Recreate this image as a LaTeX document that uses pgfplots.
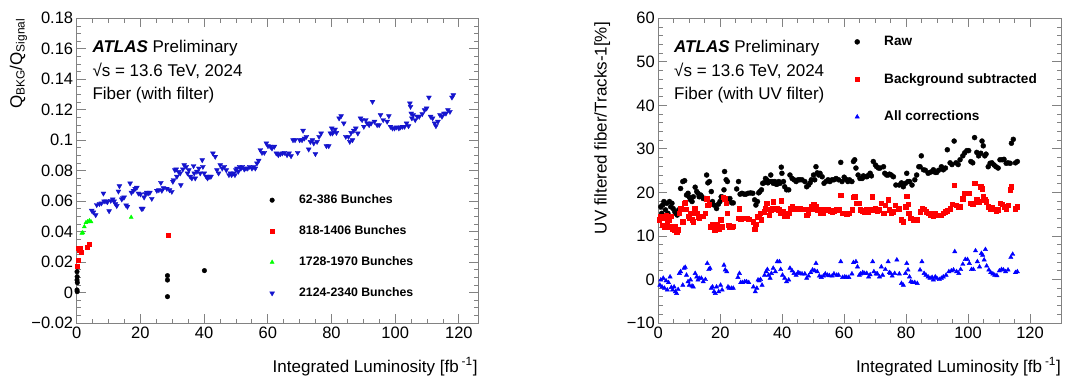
\documentclass[border=0pt]{standalone}
\usepackage{fontspec}
\setmainfont{Liberation Sans}
\usepackage{pgfplots}
\pgfplotsset{compat=1.18}
\definecolor{rootgreen}{RGB}{0,255,0}
\definecolor{rootblueL}{RGB}{20,20,205}
\definecolor{rootblue}{RGB}{0,0,255}
\definecolor{rootred}{RGB}{255,0,0}
\definecolor{frame}{RGB}{130,130,130}
\pgfplotsset{
  rootax/.style={
    scale only axis, height=304.7pt,
    axis line style={frame, line width=0.8pt},
    every tick/.style={frame, line width=0.8pt},
    major tick length=9pt, minor tick length=4.5pt,
    tick align=inside,
    ticklabel style={font=\fontsize{16.5}{18}\selectfont},
    scaled ticks=false,
    clip=false,
    legend cell align=left,
    legend image code/.code={\draw[mark repeat=2,mark phase=2] plot coordinates {(0pt,0pt)(0pt,0pt)(0pt,0pt)}; \path[draw=none,fill=none] (-3pt,-3pt) rectangle (25pt,3pt);},
  }
}
\begin{document}
\begin{tikzpicture}[x=1pt,y=1pt]
\path[use as bounding box] (0,0) rectangle (1078,376);

% ---------------- left panel ----------------
\begin{axis}[rootax, at={(76.7pt,53pt)}, anchor=south west, width=401.3pt,
  xmin=0, xmax=126, ymin=-0.02, ymax=0.18,
  xtick={0,20,40,60,80,100,120}, xticklabels={0,20,40,60,80,100,120},
  ytick={-0.02,0,0.02,0.04,0.06,0.08,0.1,0.12,0.14,0.16,0.18},
  yticklabels={−0.02,0,0.02,0.04,0.06,0.08,0.1,0.12,0.14,0.16,0.18},
  minor x tick num=3, minor y tick num=3,
  legend style={at={(0.479,0.4234)}, anchor=north west, draw=none, fill=none, inner sep=0pt, row sep=19pt,
    font=\bfseries\fontsize{12.3}{14}\selectfont, nodes={inner xsep=2pt, inner ysep=0pt, text height=9pt, text depth=3pt}},
]
\addplot[only marks, mark=*, mark size=2.3pt, color=black] coordinates {
(0.1,0.0137)(0.15,0.0104)(0.1,0.0082)(0.2,0.0065)(0.1,0.0017)(0.15,0.0006)(28.5,0.0111)(28.5,0.0082)(28.5,-0.0027)(40.1,0.0144)};
\addlegendentry{62-386 Bunches}
\addplot[only marks, mark=square*, mark size=2pt, color=rootred] coordinates {
(0.2,0.017)(0.4,0.0214)(0.5,0.029)(1.0,0.029)(1.4,0.0264)(0.8,0.0275)(3.4,0.030)(3.8,0.032)(28.6,0.0378)};
\addlegendentry{818-1406 Bunches}
\addplot[only marks, mark=triangle*, mark size=2.3pt, color=rootgreen] coordinates {
(1.6,0.0389)(1.9,0.0393)(2.4,0.0432)(2.9,0.0459)(3.4,0.0465)(4.0,0.0472)(4.5,0.0465)(17.1,0.0494)};
\addlegendentry{1728-1970 Bunches}
\addplot[only marks, mark=triangle*, mark size=2.8pt, color=rootblueL, mark options={rotate=180}] coordinates {
(4.72,0.0538)(5.24,0.0527)(5.97,0.0509)(6.29,0.0575)(7.13,0.0582)(7.76,0.0586)(8.39,0.0651)(8.60,0.0599)(9.22,0.0599)(9.64,0.0594)(10.17,0.0535)(10.69,0.0603)(11.32,0.0612)(11.74,0.0599)(12.16,0.0582)(12.58,0.0569)(13.10,0.0664)(13.42,0.0699)(14.15,0.0612)(14.47,0.0621)(14.88,0.0625)(15.51,0.0573)(15.93,0.0564)(16.77,0.0717)(17.19,0.0656)(17.82,0.0669)(18.34,0.0682)(18.87,0.0689)(19.39,0.0651)(20.02,0.0645)(20.34,0.0551)(20.75,0.0551)(21.17,0.0625)(21.59,0.0647)(22.01,0.0656)(22.43,0.0651)(22.96,0.0656)(23.58,0.0616)(25.16,0.0669)(25.79,0.0673)(26.42,0.0721)(26.73,0.0669)(27.25,0.0686)(28.30,0.0682)(29.14,0.0673)(29.87,0.0662)(30.19,0.0728)(30.40,0.0739)(30.82,0.0804)(31.24,0.0809)(31.45,0.0761)(31.97,0.0793)(32.49,0.0783)(32.70,0.0706)(33.33,0.0809)(33.75,0.0837)(34.38,0.0826)(34.80,0.0783)(35.22,0.0804)(35.64,0.0761)(36.16,0.0750)(36.69,0.0831)(36.90,0.0783)(37.21,0.0750)(37.74,0.0794)(38.36,0.0815)(38.78,0.0783)(39.41,0.0870)(39.62,0.0826)(40.04,0.0783)(40.67,0.0761)(41.09,0.0750)(41.72,0.0761)(42.14,0.0761)(42.77,0.0914)(43.50,0.0892)(44.03,0.0804)(44.55,0.0783)(45.07,0.0837)(45.70,0.0815)(46.33,0.0826)(46.96,0.0804)(47.80,0.0772)(48.22,0.0783)(48.64,0.0772)(49.27,0.0783)(49.69,0.0772)(50.00,0.0804)(50.31,0.0815)(50.73,0.0794)(51.15,0.0826)(51.57,0.0815)(51.99,0.0826)(52.62,0.0809)(53.14,0.0815)(53.67,0.0815)(54.30,0.0826)(55.03,0.0815)(55.56,0.0826)(56.08,0.0815)(56.60,0.0848)(57.13,0.0866)(57.65,0.0936)(58.18,0.0918)(58.91,0.0918)(59.54,0.0980)(60.06,0.0962)(60.80,0.0958)(61.32,0.0947)(62.05,0.0958)(62.68,0.0914)(63.31,0.0903)(63.94,0.0910)(64.57,0.0914)(65.20,0.0918)(66.04,0.0903)(66.67,0.0914)(67.30,0.0896)(67.92,0.1001)(68.55,0.1001)(69.39,0.0918)(70.02,0.1001)(70.75,0.1001)(71.07,0.1063)(71.49,0.1012)(72.12,0.1023)(72.85,0.0940)(73.38,0.0990)(74.00,0.1001)(74.42,0.0980)(74.95,0.0910)(75.47,0.0990)(76.10,0.1023)(76.73,0.1045)(78.41,0.0962)(79.14,0.0962)(79.66,0.1045)(80.08,0.1078)(80.29,0.1045)(80.71,0.1056)(81.13,0.1071)(81.55,0.1049)(82.39,0.1144)(83.02,0.1159)(83.86,0.1111)(84.49,0.1023)(85.32,0.1023)(85.74,0.0990)(86.16,0.1049)(86.58,0.1001)(87.00,0.1063)(87.63,0.1078)(88.26,0.1045)(89.10,0.1144)(89.62,0.1133)(90.15,0.1089)(90.78,0.1133)(91.19,0.1111)(91.82,0.1100)(92.45,0.1111)(92.87,0.1253)(93.50,0.1122)(94.34,0.1100)(94.97,0.1100)(95.39,0.1166)(96.23,0.1133)(97.48,0.1122)(98.01,0.1159)(98.53,0.1089)(99.16,0.1078)(99.79,0.1078)(100.42,0.1085)(101.15,0.1078)(101.68,0.1085)(102.31,0.1089)(102.94,0.1089)(103.56,0.1111)(104.19,0.1093)(104.61,0.1242)(104.82,0.1220)(105.03,0.1176)(105.24,0.1144)(105.66,0.1166)(106.29,0.1133)(106.92,0.1155)(107.55,0.1155)(108.49,0.1172)(109.22,0.1198)(109.85,0.1209)(110.59,0.1281)(111.11,0.1155)(111.74,0.1144)(112.37,0.1111)(112.79,0.1093)(113.42,0.1122)(114.05,0.1166)(114.68,0.1155)(115.30,0.1176)(115.93,0.1176)(116.56,0.1198)(117.19,0.1187)(117.82,0.1281)(118.24,0.1296)};
\addlegendentry{2124-2340 Bunches}
\end{axis}

% ---------------- right panel ----------------
\begin{axis}[rootax, at={(658.3pt,53pt)}, anchor=south west, width=402.7pt,
  xmin=0, xmax=130, ymin=-10, ymax=60,
  xtick={0,20,40,60,80,100,120}, xticklabels={0,20,40,60,80,100,120},
  ytick={-10,0,10,20,30,40,50,60}, yticklabels={−10,0,10,20,30,40,50,60},
  minor x tick num=3, minor y tick num=4,
  legend style={at={(0.486,0.943)}, anchor=north west, draw=none, fill=none, inner sep=0pt, row sep=25.5pt,
    font=\bfseries\fontsize{13.6}{15}\selectfont, nodes={inner xsep=2pt, inner ysep=0pt, text height=10pt, text depth=2pt}},
]
\addplot[only marks, mark=*, mark size=2.5pt, color=black] coordinates {
(0.8,16.7)(1.1,15.2)(1.4,17.1)(1.8,17.9)(2.3,16.0)(2.7,17.5)(3.1,15.2)(3.6,17.9)(4.0,16.7)(4.4,17.5)(4.8,16.3)(5.3,15.6)(5.7,15.2)(6.1,14.8)(6.6,16.0)(7.2,20.9)(7.9,22.5)(8.5,22.7)(9.1,19.4)(9.6,19.8)(10.0,18.9)(10.4,18.3)(10.9,17.9)(11.3,19.0)(11.9,21.2)(12.4,20.2)(12.8,19.8)(13.2,19.0)(13.7,19.4)(14.1,19.0)(14.5,18.6)(15.2,18.6)(15.6,24.0)(16.0,22.2)(16.5,22.5)(17.1,20.2)(17.5,17.9)(18.0,17.1)(18.8,16.3)(19.4,17.3)(19.9,17.9)(20.3,19.0)(20.8,18.9)(21.2,20.6)(21.4,24.8)(21.9,22.9)(22.3,22.5)(22.7,18.4)(23.1,18.6)(23.7,17.6)(24.2,17.6)(25.3,20.8)(25.9,22.5)(26.4,19.6)(27.0,19.8)(27.7,19.6)(28.3,19.6)(29.0,19.8)(29.8,19.9)(30.5,19.8)(31.1,18.3)(31.5,17.1)(32.0,17.9)(32.4,19.9)(32.8,20.2)(33.3,20.6)(33.7,22.1)(34.1,22.2)(34.6,23.2)(35.0,22.9)(35.4,22.2)(35.8,22.5)(36.3,24.0)(36.7,22.5)(37.1,22.1)(37.6,22.5)(38.0,21.9)(38.4,21.9)(38.9,22.5)(39.3,22.1)(39.7,25.8)(39.9,24.4)(40.4,22.5)(40.8,21.3)(41.4,20.6)(42.1,20.6)(42.5,24.0)(43.2,23.2)(43.8,22.9)(44.5,22.5)(45.1,22.9)(45.7,22.9)(46.4,22.9)(47.3,22.5)(47.9,21.3)(48.5,21.7)(49.0,22.2)(49.4,22.9)(50.1,24.0)(50.5,22.9)(50.9,25.9)(51.3,24.5)(51.8,24.0)(52.2,24.4)(52.9,23.6)(53.5,22.1)(54.1,22.5)(54.8,22.9)(55.4,22.5)(56.1,22.9)(56.7,22.9)(57.4,23.2)(58.2,22.9)(58.9,26.9)(59.3,22.5)(60.0,23.5)(60.6,23.0)(61.2,22.5)(61.7,22.9)(62.5,22.5)(63.0,27.1)(63.4,27.5)(63.8,25.6)(64.5,24.0)(65.1,23.2)(65.8,23.2)(66.2,23.8)(66.6,23.6)(67.3,23.6)(67.9,24.0)(68.4,24.4)(68.8,23.8)(69.4,27.1)(70.1,26.3)(70.5,25.9)(71.1,25.6)(71.6,25.6)(72.7,25.9)(73.1,24.4)(73.7,24.0)(74.2,24.0)(74.6,24.2)(75.2,24.0)(75.9,23.6)(76.7,21.7)(77.8,21.7)(78.5,22.2)(79.1,21.3)(79.8,22.1)(80.2,24.4)(80.6,22.5)(81.1,22.5)(81.9,21.7)(82.8,22.9)(83.4,24.0)(84.1,25.9)(84.5,25.9)(84.9,28.4)(85.6,25.2)(86.2,25.1)(87.1,24.4)(87.7,24.6)(88.4,24.8)(88.8,25.2)(89.4,24.6)(89.9,24.6)(90.5,25.1)(91.4,25.9)(92.0,25.2)(92.7,25.6)(93.3,29.8)(94.2,26.8)(94.8,26.4)(95.5,31.8)(96.1,26.8)(96.8,26.4)(97.4,27.5)(98.3,28.4)(98.9,29.1)(99.6,29.6)(100.2,29.6)(100.9,27.1)(101.5,26.8)(102.1,32.6)(102.8,29.2)(103.4,28.4)(104.1,29.0)(104.5,31.8)(104.9,30.7)(105.4,28.4)(105.8,28.8)(106.5,25.9)(107.1,26.7)(107.7,26.8)(108.4,26.3)(109.0,25.9)(109.7,25.6)(110.3,27.5)(111.0,27.5)(111.6,27.6)(112.3,26.7)(112.9,26.8)(113.6,26.7)(114.0,31.3)(114.6,32.2)(115.3,26.8)(115.9,27.1)};
\addlegendentry{Raw}
\addplot[only marks, mark=square*, mark size=2.2pt, color=rootred] coordinates {
(0.3,13.7)(0.8,14.4)(1.2,12.5)(1.6,14.1)(2.0,12.1)(2.5,14.8)(2.9,12.9)(3.3,13.7)(3.8,12.1)(4.2,14.6)(4.6,11.7)(5.1,11.4)(5.5,12.1)(5.9,11.0)(6.4,11.4)(6.8,15.2)(7.2,16.3)(7.9,13.3)(8.3,17.5)(8.7,17.6)(9.1,16.1)(9.6,14.6)(10.0,14.1)(10.4,15.2)(10.9,13.7)(11.3,13.3)(11.7,16.3)(12.4,15.2)(12.8,14.4)(13.2,14.1)(13.9,14.6)(14.5,14.6)(15.2,15.2)(15.6,18.6)(16.0,17.1)(16.5,17.3)(16.9,12.1)(17.5,12.7)(18.0,11.4)(18.4,11.4)(18.8,12.7)(19.5,11.7)(20.1,13.7)(20.6,12.1)(21.0,18.9)(21.4,18.6)(21.9,17.5)(22.3,15.2)(22.7,12.5)(23.1,12.1)(23.8,12.1)(24.2,12.3)(25.7,14.1)(26.2,16.3)(26.6,13.8)(27.2,14.1)(27.9,14.1)(28.5,14.1)(29.2,13.9)(30.7,13.3)(31.1,11.5)(31.5,12.7)(32.0,14.4)(32.4,14.6)(32.8,15.2)(33.3,13.7)(34.1,15.6)(34.6,16.3)(35.0,17.5)(35.4,16.1)(35.8,14.8)(36.3,16.0)(36.7,16.3)(37.1,17.9)(37.6,16.3)(38.0,16.1)(38.4,16.3)(38.9,16.0)(39.3,15.2)(39.7,18.1)(40.1,15.6)(40.8,14.6)(41.4,14.6)(42.1,15.2)(42.5,16.3)(43.2,16.9)(43.8,16.3)(44.5,16.1)(45.1,16.3)(45.7,16.3)(46.4,16.1)(47.3,16.1)(47.9,14.8)(48.3,15.2)(48.8,16.1)(49.4,16.7)(50.1,17.3)(50.5,16.3)(50.9,16.9)(51.3,16.0)(51.8,16.0)(52.4,15.2)(53.1,15.2)(53.5,16.0)(54.1,16.0)(54.8,16.0)(55.4,15.8)(56.1,15.6)(56.7,15.8)(57.6,16.0)(58.2,16.0)(58.9,19.4)(59.5,15.2)(60.2,15.2)(60.8,15.0)(61.5,15.2)(62.5,16.0)(63.0,18.9)(63.4,19.0)(64.0,17.5)(64.7,17.5)(65.1,16.0)(65.8,15.8)(66.4,15.6)(67.1,16.0)(67.7,15.6)(68.4,16.0)(69.0,19.0)(69.4,16.0)(70.1,16.3)(70.7,15.8)(71.4,16.0)(72.0,17.5)(72.7,15.2)(73.3,17.1)(74.2,18.3)(74.6,16.0)(75.2,15.2)(75.9,15.6)(76.5,17.1)(77.6,16.3)(78.5,13.7)(79.1,13.3)(79.8,16.7)(80.2,19.2)(80.6,17.3)(80.8,15.2)(81.3,14.1)(81.7,14.1)(82.3,13.7)(83.0,13.7)(83.6,13.7)(84.5,15.6)(85.1,16.3)(85.8,16.1)(86.4,15.6)(87.1,15.2)(87.7,14.8)(88.4,15.2)(88.8,14.6)(89.4,15.2)(89.9,14.8)(90.5,14.8)(91.4,14.8)(92.0,15.2)(92.7,15.6)(93.3,15.8)(94.2,16.3)(94.8,17.3)(95.5,21.7)(96.1,17.1)(96.8,16.6)(97.4,16.7)(98.3,18.6)(98.9,19.8)(99.6,19.8)(100.2,19.8)(100.9,17.5)(101.5,17.3)(102.1,22.1)(102.8,18.3)(103.4,17.9)(104.1,21.3)(104.5,20.9)(104.9,19.0)(105.4,18.3)(105.8,17.9)(106.5,16.7)(107.1,16.3)(107.7,16.6)(108.4,16.1)(109.0,15.8)(109.7,16.0)(110.3,17.5)(111.0,17.3)(111.6,16.7)(112.3,16.3)(112.9,17.1)(113.6,20.6)(114.0,21.3)(115.3,16.3)(115.9,16.7)};
\addlegendentry{Background subtracted}
\addplot[only marks, mark=triangle*, mark size=2.5pt, color=rootblue] coordinates {
(0.5,-1.3)(0.8,-0.1)(1.2,-1.7)(1.6,0.3)(2.0,-2.0)(2.5,-0.3)(2.9,-2.4)(3.3,-0.7)(3.8,0.6)(4.2,-1.8)(4.6,-2.4)(5.1,-1.7)(5.5,-2.8)(5.9,-3.2)(6.4,-2.3)(6.8,1.4)(7.2,1.8)(7.9,-1.3)(8.3,2.6)(8.7,2.8)(9.1,1.0)(9.6,-0.5)(10.0,-1.3)(10.4,-0.1)(10.9,-1.5)(11.3,-1.7)(11.9,1.4)(12.4,0.6)(12.8,-0.1)(13.2,0.3)(13.9,0.3)(14.5,-0.5)(15.2,0.0)(15.8,3.7)(16.3,2.3)(16.7,2.6)(17.1,-2.0)(17.5,-1.7)(18.0,-2.8)(18.4,-3.2)(18.8,-1.7)(19.5,-2.8)(20.1,-1.3)(20.6,-2.4)(21.2,3.3)(21.6,2.2)(22.1,1.8)(22.5,-1.7)(22.9,-2.0)(23.6,-2.0)(24.2,-2.0)(25.7,0.5)(26.2,1.4)(26.6,-0.7)(27.2,-0.7)(27.9,-0.5)(28.5,-0.5)(29.2,-0.7)(30.7,-1.7)(31.3,-2.8)(31.8,-2.0)(32.2,-0.1)(32.6,-0.3)(33.0,0.0)(33.5,-1.3)(34.3,1.0)(34.8,1.8)(35.2,2.3)(35.6,1.0)(36.1,0.3)(36.5,1.4)(37.1,2.6)(37.8,1.8)(38.4,4.1)(39.1,4.1)(39.5,2.3)(40.1,1.0)(40.8,0.3)(41.4,-0.5)(42.1,-0.1)(42.5,2.6)(43.2,2.0)(43.8,1.4)(44.5,1.0)(45.1,1.6)(45.7,1.4)(46.4,1.3)(47.3,1.3)(47.9,0.3)(48.5,0.8)(49.2,1.6)(49.8,2.2)(50.5,2.0)(50.9,3.7)(51.3,1.8)(52.0,0.8)(52.6,0.5)(53.3,0.8)(53.9,1.3)(54.6,1.0)(55.2,0.9)(56.1,0.8)(56.7,1.3)(57.6,1.0)(58.2,1.0)(58.9,4.1)(59.5,0.5)(60.2,0.6)(60.8,0.5)(61.5,0.5)(62.5,1.3)(63.0,3.9)(63.8,4.1)(64.3,2.9)(64.9,1.0)(65.3,1.3)(66.0,1.6)(66.6,1.4)(67.3,1.4)(67.9,0.6)(68.4,1.1)(69.2,4.1)(69.6,1.8)(70.3,1.3)(70.7,1.3)(71.4,0.6)(72.0,2.9)(72.4,1.0)(73.3,2.3)(74.2,4.1)(74.6,1.6)(75.0,1.4)(75.5,0.8)(76.3,1.4)(77.0,4.5)(77.8,1.3)(78.5,-0.9)(79.1,-1.3)(79.8,1.4)(80.2,3.7)(80.6,2.2)(81.1,0.6)(81.5,-0.5)(82.1,-0.7)(82.8,-0.7)(83.6,-0.9)(84.5,2.2)(85.1,4.1)(85.8,1.4)(86.4,1.0)(87.1,0.6)(87.7,0.3)(88.4,0.5)(88.8,-0.1)(89.4,0.6)(89.9,0.3)(90.7,0.0)(91.4,0.3)(92.0,0.6)(92.9,1.0)(93.8,1.8)(94.6,2.0)(95.3,2.2)(95.7,6.4)(96.3,1.8)(97.0,1.4)(97.6,2.3)(98.3,3.5)(99.1,4.6)(99.8,4.6)(100.4,3.7)(101.1,2.3)(101.7,2.3)(102.4,6.6)(103.0,4.1)(103.7,2.9)(104.3,6.0)(104.7,5.6)(105.2,4.5)(105.6,6.9)(106.0,3.1)(106.7,2.2)(107.3,1.6)(108.0,1.3)(108.6,1.0)(109.3,0.9)(110.1,2.0)(110.8,2.3)(111.4,2.2)(112.1,1.8)(112.9,2.2)(113.8,5.1)(114.4,5.8)(115.3,1.6)(115.9,1.8)};
\addlegendentry{All corrections}
\end{axis}

% ---------------- texts ----------------
\begin{scope}[every node/.style={inner sep=0pt, font=\fontsize{17}{20}\selectfont}]
\node[anchor=base west] at (92.3,323.3) {\textbf{\textit{ATLAS}} Preliminary};
\node[anchor=base west] at (92.3,300) {√s = 13.6 TeV, 2024};
\node[anchor=base west] at (92.3,276.7) {Fiber (with filter)};
\node[anchor=base west] at (674,323.3) {\textbf{\textit{ATLAS}} Preliminary};
\node[anchor=base west] at (674,300) {√s = 13.6 TeV, 2024};
\node[anchor=base west] at (674,276.7) {Fiber (with UV filter)};
\node[rotate=90, anchor=base east] at (22,357.7) {Q\textsubscript{BKG}/Q\textsubscript{Signal}};
\node[rotate=90, anchor=base east] at (606.5,354) {UV filtered fiber/Tracks-1[\%]};
\node[anchor=base east] at (477.7,4) {Integrated Luminosity [fb\,\textsuperscript{-1}]};
\node[anchor=base east] at (1061,4) {Integrated Luminosity [fb\,\textsuperscript{-1}]};
\end{scope}
\end{tikzpicture}
\end{document}
